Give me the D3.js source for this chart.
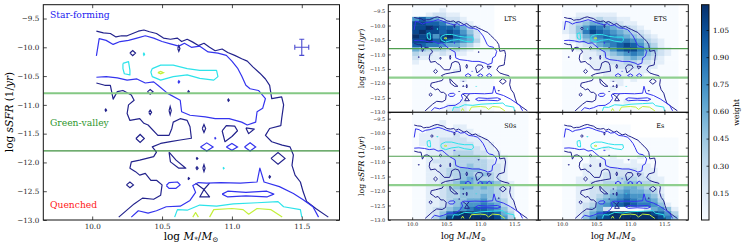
<!DOCTYPE html>
<html>
<head>
<meta charset="utf-8">
<script src="https://cdn.jsdelivr.net/npm/d3@7"></script>
<style>
body{margin:0;background:#fff}
svg{display:block}
text{font-family:"DejaVu Serif",serif}
</style>
</head>
<body>
<svg id="chart" width="744" height="248"></svg>
<script>
var massTicks = [10.0, 10.5, 11.0, 11.5];
var ssfrTicks = [-9.5, -10.0, -10.5, -11.0, -11.5, -12.0, -12.5, -13.0];
var weightTicks = [0.15, 0.30, 0.45, 0.60, 0.75, 0.90, 1.05];
var valleyLimits = [-10.8, -11.8];
var regionNames = ['Star-forming', 'Green-valley', 'Quenched'];
var panelNames = ['LTS', 'ETS', 'S0s', 'Es'];
var errorBar = [11.5, -10.0, 0.05, 0.14];

// weighted 2d histograms: bins of 0.1 dex in mass (10.0 -> 11.8), 0.15 dex in sSFR (first row starts at -9.25)
// '.' empty bin, digit = weight / 0.12, X = top of colour scale
var binX0 = 10.0, binW = 0.1, binTop = -9.25, binH = 0.15;
var heatLTS = [
	"000000000000......",
	"000010000000......",
	"001221100000......",
	"686532210000......",
	"998874421000......",
	"99X988753100......",
	"9X9989864200......",
	"X9969X875200......",
	"99X898765300......",
	"887765543100......",
	"543332321000......",
	"322121110000......",
	"211100000000......",
	"100000000000......",
	"000000000000......",
	"000000100000......",
	"000000000000......",
	"000000010000......",
	"000000000000......",
	"000000000000......",
	"000000000000......",
	"000000000000......",
	"000000010000......",
	"000001110000......",
	"000001210000......"
];
var heatETS = [
	"00000000000000000.",
	"00000000000000000.",
	"00111111000000000.",
	"01222322110000000.",
	"12345543211000000.",
	"12468765432100000.",
	"12479876543210000.",
	"01356787654321000.",
	"01245677776532100.",
	"00123567898643100.",
	"00112346899754210.",
	"00011234567643210.",
	"00011123345432100.",
	"00001112233221100.",
	"00001111222111000.",
	"00000111111110000.",
	"00000011111100000.",
	"00000001101000000.",
	"00000000100000000.",
	"00000001000000000.",
	"00000000000000000.",
	"00000000000000000.",
	"00000000010000000.",
	"00000000000000000.",
	"00000000000000000."
];
var heatS0s = [
	"00000000000000000.",
	"00000000000000000.",
	"00001000000000000.",
	"00011011000000000.",
	"00111111100000000.",
	"01111121110000000.",
	"01112222111000000.",
	"01112222211100000.",
	"00112222221100000.",
	"00112233322110000.",
	"00112233332111000.",
	"00122233333211000.",
	"00112233433221000.",
	"00112334443221000.",
	"00112334434321000.",
	"00112234543321000.",
	"00112346546542100.",
	"00112345545432100.",
	"00112334444432100.",
	"00112334445432100.",
	"00112344556443100.",
	"00112345667653100.",
	"00123456788764200.",
	"0012479XX99985300.",
	"001359XXXXXX96300."
];
var heatEs = [
	"..................",
	"..................",
	"..................",
	"0000000000........",
	"0000000000........",
	"0000000000........",
	"00000000000000000.",
	"00000000000000000.",
	"00000010000000000.",
	"00000000000000000.",
	"00001001000100000.",
	"00001111101000000.",
	"00011111111110000.",
	"00011112222111000.",
	"00011122222211000.",
	"00111122333221100.",
	"00112233344332100.",
	"00112233455432100.",
	"00112234565543100.",
	"00112345676654200.",
	"00112456787665300.",
	"00123567898776410.",
	"00124520000025641.",
	"0013579XXXXXX9863.",
	"0014689XXXXXXX974."
];

// contour lines of the whole sample, [log M, log sSFR]
var contourL1 = [
	[[10.03,-9.72],[10.08,-9.75],[10.13,-9.76],[10.17,-9.82],[10.21,-9.8],[10.25,-9.8],[10.29,-9.76],[10.33,-9.72],[10.37,-9.7],[10.41,-9.73],[10.46,-9.76],[10.51,-9.84],[10.56,-9.86],[10.61,-9.84],[10.64,-9.9],[10.68,-9.86],[10.72,-9.91],[10.76,-9.97],[10.8,-9.93],[10.84,-10.0],[10.88,-10.06],[10.93,-10.03],[10.97,-10.09],[11.02,-10.14],[11.07,-10.2],[11.11,-10.24],[11.15,-10.34],[11.2,-10.45],[11.24,-10.55],[11.27,-10.66],[11.285,-10.89],[11.356,-10.86],[11.37,-11.0],[11.356,-11.24],[11.35,-11.36],[11.27,-11.41],[11.24,-11.53],[11.285,-11.64],[11.36,-11.7],[11.416,-11.73],[11.44,-11.87],[11.43,-12.05],[11.452,-12.22],[11.49,-12.34],[11.51,-12.51],[11.535,-12.68],[11.6,-12.8],[11.69,-12.95]],
	[[10.03,-10.62],[10.09,-10.66],[10.13,-10.66],[10.15,-10.9],[10.18,-10.77],[10.22,-10.75],[10.28,-10.83],[10.3,-10.92],[10.26,-11.0],[10.25,-11.15],[10.27,-11.27],[10.34,-11.24],[10.37,-11.32],[10.4,-11.35],[10.47,-11.53],[10.55,-11.53],[10.57,-11.41],[10.58,-11.3],[10.63,-11.24],[10.68,-11.27],[10.7,-11.38],[10.71,-11.58],[10.63,-11.61],[10.56,-11.64],[10.49,-11.67],[10.43,-11.73],[10.46,-11.82],[10.44,-11.9],[10.39,-11.93],[10.34,-11.96],[10.28,-11.99],[10.27,-12.1],[10.31,-12.16],[10.34,-12.22],[10.38,-12.19],[10.42,-12.31],[10.46,-12.31],[10.5,-12.39],[10.49,-12.57],[10.44,-12.64],[10.36,-12.62],[10.3,-12.72],[10.19,-12.95]],
	[[10.93,-11.45],[10.96,-11.36],[11.02,-11.37],[11.04,-11.45],[11.0,-11.55],[10.95,-11.64],[10.93,-11.45]],
	[[10.55,-11.82],[10.56,-11.99],[10.62,-12.1],[10.67,-12.1],[10.6,-11.96],[10.55,-11.82]],
	[[11.1,-11.4],[11.16,-11.42],[11.12,-11.5],[11.1,-11.4]],
	[[10.74,-12.36],[10.8,-12.47],[10.84,-12.6],[10.77,-12.6],[10.8,-12.47],[10.84,-12.36]]
];
var contourL2 = [
	[[10.03,-10.15],[10.05,-9.85],[10.1,-9.88],[10.15,-9.95],[10.2,-9.9],[10.26,-9.88],[10.32,-9.84],[10.38,-9.8],[10.44,-9.84],[10.5,-9.9],[10.56,-9.94],[10.62,-9.98],[10.66,-9.93],[10.71,-10.0],[10.77,-9.98],[10.83,-10.08],[10.9,-10.1],[10.96,-10.14],[11.0,-10.24],[11.04,-10.36],[11.07,-10.5],[11.1,-10.66],[11.13,-10.72],[11.19,-10.75],[11.24,-10.89],[11.22,-11.06],[11.18,-11.12],[11.17,-11.3],[11.11,-11.35],[11.07,-11.3],[10.98,-11.24],[10.88,-11.24],[10.81,-11.21],[10.7,-11.18],[10.64,-11.12],[10.63,-10.92],[10.54,-10.8],[10.47,-10.66],[10.44,-10.6],[10.38,-10.62],[10.32,-10.55],[10.25,-10.57],[10.18,-10.53],[10.1,-10.51],[10.03,-10.52]],
	[[10.28,-12.95],[10.33,-12.84],[10.4,-12.88],[10.46,-12.84],[10.53,-12.77],[10.63,-12.76],[10.7,-12.66],[10.74,-12.52],[10.72,-12.4],[10.76,-12.35],[10.82,-12.36],[10.92,-12.35],[11.06,-12.36],[11.18,-12.34],[11.2,-12.1],[11.23,-12.34],[11.34,-12.42],[11.44,-12.54],[11.51,-12.65],[11.58,-12.77],[11.62,-12.95]],
	[[10.93,-12.55],[10.97,-12.5],[11.1,-12.52],[11.25,-12.5],[11.3,-12.55],[11.25,-12.6],[11.1,-12.58],[10.97,-12.6],[10.93,-12.55]],
	[[10.53,-12.4],[10.55,-12.35],[10.61,-12.34],[10.63,-12.39],[10.6,-12.45],[10.55,-12.45],[10.53,-12.4]]
];
var contourL3 = [
	[[10.43,-10.37],[10.49,-10.31],[10.58,-10.31],[10.68,-10.37],[10.77,-10.4],[10.89,-10.4],[10.9,-10.51],[10.87,-10.57],[10.77,-10.54],[10.68,-10.48],[10.58,-10.51],[10.49,-10.57],[10.43,-10.51],[10.42,-10.43],[10.43,-10.37]],
	[[10.22,-10.28],[10.26,-10.25],[10.27,-10.4],[10.27,-10.48],[10.23,-10.46],[10.22,-10.37],[10.22,-10.28]],
	[[10.59,-12.95],[10.61,-12.82],[10.68,-12.83],[10.77,-12.74],[10.89,-12.76],[11.01,-12.72],[11.18,-12.7],[11.33,-12.68],[11.37,-12.77],[11.49,-12.82],[11.5,-12.95]]
];
var contourL4 = [
	[[10.84,-12.95],[10.87,-12.82],[11.0,-12.8],[11.08,-12.82],[11.12,-12.9],[11.18,-12.8],[11.28,-12.82],[11.36,-12.95]],
	[[10.72,-12.95],[10.74,-12.87],[10.76,-12.95]]
];
// small closed contours: [log M, log sSFR, half width, half height, level]
var contourSpots = [
	[10.29,-10.1,0.02,0.045,1], [10.62,-10.02,0.008,0.05,1], [10.415,-10.774,0.02,0.04,1],
	[10.689,-10.774,0.006,0.02,1], [10.975,-10.918,0.006,0.02,1], [10.097,-11.092,0.006,0.02,1],
	[10.415,-11.13,0.01,0.04,1], [10.558,-11.1,0.008,0.07,1], [10.80,-11.41,0.012,0.07,1],
	[10.343,-11.584,0.03,0.07,1], [11.33,-11.93,0.05,0.1,1], [10.75,-11.93,0.006,0.015,1],
	[10.75,-12.1,0.008,0.025,1], [10.80,-12.1,0.008,0.06,1], [10.69,-12.28,0.006,0.015,1],
	[11.27,-12.25,0.006,0.02,1], [10.27,-12.39,0.025,0.05,1],
	[10.82,-11.73,0.045,0.07,2], [11.0,-11.73,0.04,0.06,2], [11.13,-11.73,0.04,0.07,2],
	[10.62,-10.6,0.006,0.02,2], [10.88,-11.58,0.004,0.01,2],
	[10.37,-10.12,0.005,0.02,3], [10.94,-12.1,0.004,0.01,3],
	[10.49,-10.44,0.02,0.02,4]
];

var contourColor = ['#23238c', '#3434ee', '#2de3ea', '#c4f03a'];
var heatColor = d3.scaleSequential(d3.interpolateBlues).domain([0, 1.19]);
var svg = d3.select('#chart');
var fmt = d3.format('.1f');

function cellValue(ch){
	if(ch === 'X') return 1.19;
	return +ch * 0.12;
}

function addHeat(g, rows, x, y){
	var cells = [];
	rows.forEach(function(row, r){
		row.split('').forEach(function(ch, c){
			if(ch === '.') return;
			cells.push({m: binX0 + c * binW, s: binTop - r * binH, w: cellValue(ch)});
		});
	});
	g.selectAll(null).data(cells).enter().append('rect')
	.attr('x', function(d){ return x(d.m); })
	.attr('y', function(d){ return y(d.s); })
	.attr('width', function(d){ return x(d.m + binW) - x(d.m) + 0.4; })
	.attr('height', function(d){ return y(d.s - binH) - y(d.s) + 0.4; })
	.attr('fill', function(d){ return heatColor(d.w); });
}

function addContours(g, x, y, lw){
	var line = d3.line().x(function(d){ return x(d[0]); }).y(function(d){ return y(d[1]); });
	[contourL1, contourL2, contourL3, contourL4].forEach(function(set, i){
		g.selectAll(null).data(set).enter().append('path')
		.attr('d', line)
		.attr('fill', 'none')
		.attr('stroke', contourColor[i])
		.attr('stroke-width', lw)
		.attr('stroke-linejoin', 'round');
	});
	g.selectAll(null).data(contourSpots).enter().append('path')
	.attr('d', function(s){
		return line([[s[0]-s[2], s[1]], [s[0], s[1]+s[3]], [s[0]+s[2], s[1]], [s[0], s[1]-s[3]], [s[0]-s[2], s[1]]]);
	})
	.attr('fill', 'none')
	.attr('stroke', function(s){ return contourColor[s[4]-1]; })
	.attr('stroke-width', lw);
}

function addAxes(g, x, y, w, h, o){
	var blank = function(){ return ''; };
	var axes = [
		[d3.axisBottom(x).tickValues(massTicks).tickFormat(o.xLabels ? fmt : blank), 'translate(0,' + h + ')'],
		[d3.axisTop(x).tickValues(massTicks).tickFormat(blank), 'translate(0,0)'],
		[d3.axisLeft(y).tickValues(ssfrTicks).tickFormat(o.yLabels ? fmt : blank), 'translate(0,0)'],
		[d3.axisRight(y).tickValues(ssfrTicks).tickFormat(blank), 'translate(' + w + ',0)']
	];
	axes.forEach(function(a){
		var ax = g.append('g').attr('transform', a[1])
		.call(a[0].tickSize(-o.tick).tickPadding(o.pad));
		ax.select('.domain').remove();
		ax.attr('font-family', o.font).attr('font-size', o.size);
		ax.selectAll('line').attr('stroke', '#000').attr('stroke-width', 0.7);
		ax.selectAll('text').attr('fill', '#222');
	});
	g.append('rect').attr('width', w).attr('height', h)
	.attr('fill', 'none').attr('stroke', '#111').attr('stroke-width', 1);
}

function sfrLabel(t){
	t.append('tspan').text('log ');
	t.append('tspan').attr('font-style', 'italic').text('sSFR');
	t.append('tspan').text(' (1/');
	t.append('tspan').attr('font-style', 'italic').text('yr');
	t.append('tspan').text(')');
}
function massLabel(t, size){
	t.append('tspan').text('log ');
	t.append('tspan').attr('font-style', 'italic').text('M');
	t.append('tspan').attr('font-size', size * 0.7).attr('dy', size * 0.2).text('*');
	t.append('tspan').attr('dy', -size * 0.2).text('/');
	t.append('tspan').attr('font-style', 'italic').text('M');
	t.append('tspan').attr('font-size', size * 0.7).attr('dy', size * 0.2).text('\u2299');
}

// ---- left panel: full sample ----
var LP = {x: 43.3, y: 4.7, w: 296.2, h: 215.3};
var xL = d3.scaleLinear().domain([9.65, 11.77]).range([0, LP.w]);
var yL = d3.scaleLinear().domain([-13, -9.26]).range([LP.h, 0]);
var gL = svg.append('g').attr('transform', 'translate(' + [LP.x, LP.y] + ')');
svg.append('clipPath').attr('id', 'clipL').append('rect').attr('width', LP.w).attr('height', LP.h);
var inL = gL.append('g').attr('clip-path', 'url(#clipL)');
addContours(inL, xL, yL, 1.2);

inL.append('line').attr('x1', 0).attr('x2', LP.w)
.attr('y1', yL(valleyLimits[0])).attr('y2', yL(valleyLimits[0]))
.attr('stroke', '#84c884').attr('stroke-width', 2);
inL.append('line').attr('x1', 0).attr('x2', LP.w)
.attr('y1', yL(valleyLimits[1])).attr('y2', yL(valleyLimits[1]))
.attr('stroke', '#3f903f').attr('stroke-width', 1.2);

var eb = d3.path();
eb.moveTo(xL(errorBar[0] - errorBar[2]), yL(errorBar[1]));
eb.lineTo(xL(errorBar[0] + errorBar[2]), yL(errorBar[1]));
eb.moveTo(xL(errorBar[0]), yL(errorBar[1] - errorBar[3]));
eb.lineTo(xL(errorBar[0]), yL(errorBar[1] + errorBar[3]));
[-1, 1].forEach(function(k){
	eb.moveTo(xL(errorBar[0] + k * errorBar[2]), yL(errorBar[1]) - 2.5);
	eb.lineTo(xL(errorBar[0] + k * errorBar[2]), yL(errorBar[1]) + 2.5);
	eb.moveTo(xL(errorBar[0]) - 2.5, yL(errorBar[1] + k * errorBar[3]));
	eb.lineTo(xL(errorBar[0]) + 2.5, yL(errorBar[1] + k * errorBar[3]));
});
inL.append('path').attr('d', eb.toString()).attr('fill', 'none')
.attr('stroke', '#4b4bd0').attr('stroke-width', 1.1);

var regionColor = ['#2020f0', '#2e962e', '#ff2020'];
var regionBase = [13.8, 121.3, 203.5];
regionNames.forEach(function(n, i){
	gL.append('text').attr('x', 6.7).attr('y', regionBase[i])
	.attr('font-size', 9.2).attr('fill', regionColor[i]).text(n);
});
addAxes(gL, xL, yL, LP.w, LP.h, {tick: 3.5, pad: 4, font: '"DejaVu Sans",sans-serif', size: 7.2, xLabels: true, yLabels: true});
sfrLabel(svg.append('text').attr('transform', 'translate(13,112) rotate(-90)')
.attr('text-anchor', 'middle').attr('font-size', 10.5));
massLabel(svg.append('text').attr('x', 191).attr('y', 240)
.attr('text-anchor', 'middle').attr('font-size', 10.5), 10.5);

// ---- right panels: morphological types ----
var RP = {w: 150, h: 107.6};
var xR = d3.scaleLinear().domain([9.65, 11.85]).range([0, RP.w]);
var yR = d3.scaleLinear().domain([-13, -9.28]).range([RP.h, 0]);
var heats = [heatLTS, heatETS, heatS0s, heatEs];
var panelPos = [[388.3, 4.7], [538.3, 4.7], [388.3, 112.3], [538.3, 112.3]];

panelNames.forEach(function(name, i){
	var g = svg.append('g').attr('transform', 'translate(' + panelPos[i] + ')');
	svg.append('clipPath').attr('id', 'clipR' + i).append('rect').attr('width', RP.w).attr('height', RP.h);
	var inner = g.append('g').attr('clip-path', 'url(#clipR' + i + ')');
	addHeat(inner, heats[i], xR, yR);
	addContours(inner, xR, yR, 1);
	inner.append('line').attr('x1', 0).attr('x2', RP.w)
	.attr('y1', yR(valleyLimits[0])).attr('y2', yR(valleyLimits[0]))
	.attr('stroke', '#4f9f4f').attr('stroke-width', 1.2);
	inner.append('line').attr('x1', 0).attr('x2', RP.w)
	.attr('y1', yR(valleyLimits[1])).attr('y2', yR(valleyLimits[1]))
	.attr('stroke', '#8fcf8f').attr('stroke-width', 2.2);
	g.append('text').attr('x', 122).attr('y', 16).attr('text-anchor', 'middle')
	.attr('font-size', 6.5).text(name);
	addAxes(g, xR, yR, RP.w, RP.h, {tick: 2.5, pad: 3, font: '"DejaVu Serif",serif', size: 5, xLabels: i >= 2, yLabels: i % 2 === 0});
	if(i % 2 === 0){
		sfrLabel(svg.append('text').attr('transform', 'translate(' + (panelPos[i][0] - 24) + ',' + (panelPos[i][1] + RP.h / 2) + ') rotate(-90)')
		.attr('text-anchor', 'middle').attr('font-size', 7.8));
	}
	if(i >= 2){
		massLabel(svg.append('text').attr('x', panelPos[i][0] + RP.w / 2).attr('y', 239)
		.attr('text-anchor', 'middle').attr('font-size', 8.6), 8.6);
	}
});

// ---- colour bar ----
var CB = {x: 701.5, y: 4.7, w: 7.5, h: 215.3};
var cScale = d3.scaleLinear().domain([0, 1.19]).range([CB.h, 0]);
var gC = svg.append('g').attr('transform', 'translate(' + [CB.x, CB.y] + ')');
var grad = svg.append('defs').append('linearGradient').attr('id', 'cbar')
.attr('x1', 0).attr('y1', 1).attr('x2', 0).attr('y2', 0);
d3.range(0, 1.0001, 0.05).forEach(function(t){
	grad.append('stop').attr('offset', t).attr('stop-color', heatColor(t * 1.19));
});
gC.append('rect').attr('width', CB.w).attr('height', CB.h).attr('fill', 'url(#cbar)');
var cAxis = gC.append('g').attr('transform', 'translate(' + CB.w + ',0)')
.call(d3.axisRight(cScale).tickValues(weightTicks).tickFormat(d3.format('.2f')).tickSize(-2.5).tickPadding(4));
cAxis.select('.domain').remove();
cAxis.attr('font-family', '"DejaVu Serif",serif').attr('font-size', 7.2);
cAxis.selectAll('line').attr('stroke', '#000').attr('stroke-width', 0.7);
gC.append('rect').attr('width', CB.w).attr('height', CB.h).attr('fill', 'none').attr('stroke', '#111').attr('stroke-width', 1);
svg.append('text').attr('transform', 'translate(739,' + (CB.y + CB.h / 2) + ') rotate(-90)')
.attr('text-anchor', 'middle').attr('font-size', 7.8).text('weight');
</script>
</body>
</html>
